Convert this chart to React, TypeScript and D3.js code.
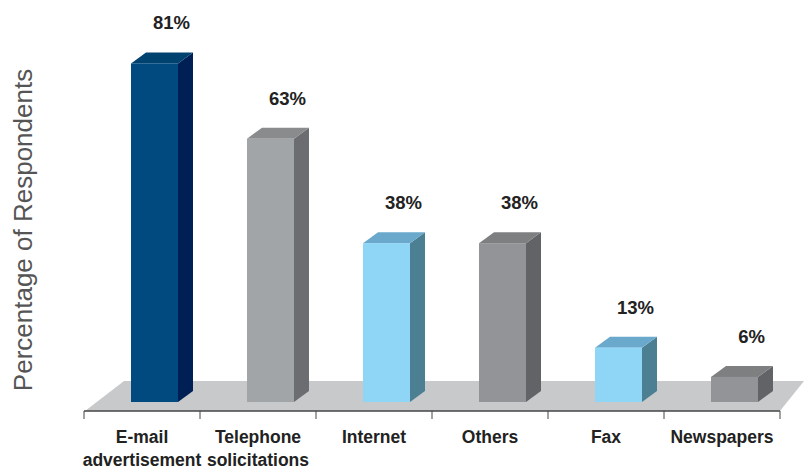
import { scaleBand, scaleLinear } from 'd3'

const categories = ['E-mail advertisement', 'Telephone solicitations', 'Internet', 'Others', 'Fax', 'Newspapers']
const labelLines = [['E-mail', 'advertisement'], ['Telephone', 'solicitations'], ['Internet'], ['Others'], ['Fax'], ['Newspapers']]
const values = [81, 63, 38, 38, 13, 6]

const frontColors = ['#004a80', '#a2a5a8', '#8fd5f5', '#939497', '#8fd5f5', '#939497']
const sideColors = ['#001f55', '#6c6d70', '#4d7f93', '#626367', '#4d7f93', '#626367']
const topColors = ['#00426f', '#8a8b8d', '#6aa8cc', '#7e7f81', '#6aa8cc', '#7e7f81']

const width = 804
const height = 470
const axisY = 411
const baseY = 402
const depthX = 15
const depthY = 11
const barWidth = 47

function App() {
  const xScale = scaleBand().domain(categories).range([84, 780])
  const yScale = scaleLinear().domain([0, 100]).range([baseY, baseY - 418])
  const bw = xScale.bandwidth()

  return (
    <svg width={width} height={height} style={{ position: 'absolute', left: 0, top: 0 }} fontFamily="Liberation Sans, Arial, sans-serif">
      <rect width={width} height={height} fill="#fff" />

      {/* floor */}
      <polygon points={`85,${axisY} 124,381 804,381 780,${axisY}`} fill="#c8c9cb" />

      {categories.map((cat, i) => {
        const x0 = (xScale(cat) ?? 0) + 47
        const x1 = x0 + barWidth
        const yTop = yScale(values[i])
        return (
          <g key={cat}>
            <polygon
              points={`${x1},${yTop} ${x1 + depthX},${yTop - depthY} ${x1 + depthX},${baseY - depthY} ${x1},${baseY}`}
              fill={sideColors[i]}
            />
            <polygon
              points={`${x0},${yTop} ${x0 + depthX},${yTop - depthY} ${x1 + depthX},${yTop - depthY} ${x1},${yTop}`}
              fill={topColors[i]}
            />
            <rect x={x0} y={yTop} width={barWidth} height={baseY - yTop} fill={frontColors[i]} />
            <text
              x={x0 + barWidth / 2 + 17}
              y={yTop - 34}
              textAnchor="middle"
              fontSize={18.5}
              fontWeight="bold"
              fill="#222"
            >
              {values[i]}%
            </text>
          </g>
        )
      })}

      <line x1={84} y1={axisY} x2={780} y2={axisY} stroke="#444" strokeWidth={1.5} />
      {[...categories.map((c) => xScale(c) ?? 0), 780].map((x, i) => (
        <line key={i} x1={x} y1={axisY} x2={x} y2={axisY + 8} stroke="#444" strokeWidth={1} />
      ))}

      {categories.map((cat, i) => (
        <text
          key={`${cat}-label`}
          x={(xScale(cat) ?? 0) + bw / 2}
          y={443}
          textAnchor="middle"
          fontSize={17.5}
          fontWeight="bold"
          fill="#222"
        >
          {labelLines[i].map((line, j) => (
            <tspan key={j} x={(xScale(cat) ?? 0) + bw / 2} dy={j === 0 ? 0 : 23}>
              {line}
            </tspan>
          ))}
        </text>
      ))}

      <text
        transform="translate(32, 230) rotate(-90)"
        textAnchor="middle"
        fontSize={26}
        fill="#555"
        fontWeight={300}
      >
        Percentage of Respondents
      </text>
    </svg>
  )
}

export default App
